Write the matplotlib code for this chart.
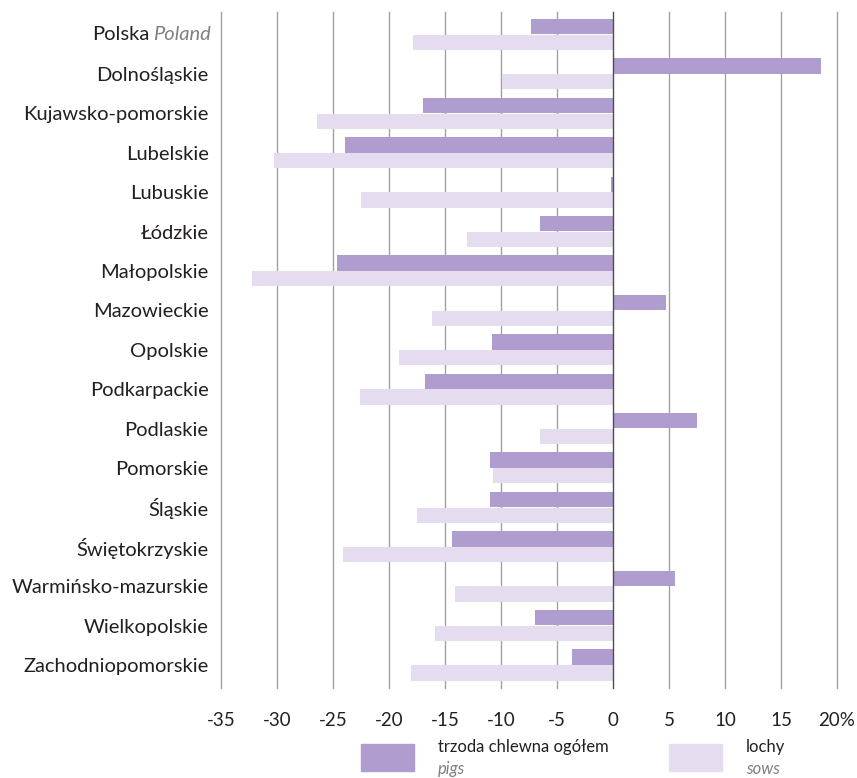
import matplotlib.pyplot as plt
import matplotlib.patches as mpatches
import matplotlib.transforms as mtransforms
import numpy as np

plt.rcParams['font.family'] = ['Lato', 'DejaVu Sans']

regions = ['Polska', 'Dolnośląskie', 'Kujawsko-pomorskie', 'Lubelskie', 'Lubuskie',
           'Łódzkie', 'Małopolskie', 'Mazowieckie', 'Opolskie', 'Podkarpackie',
           'Podlaskie', 'Pomorskie', 'Śląskie', 'Świętokrzyskie',
           'Warmińsko-mazurskie', 'Wielkopolskie', 'Zachodniopomorskie']
pigs = [-7.3, 18.6, -17.0, -23.9, -0.2, -6.5, -24.6, 4.7, -10.8, -16.8,
        7.5, -11.0, -11.0, -14.4, 5.5, -7.0, -3.7]
sows = [-17.9, -9.9, -26.4, -30.3, -22.5, -13.0, -32.2, -16.2, -19.1, -22.6,
        -6.5, -10.7, -17.5, -24.1, -14.1, -15.9, -18.0]
xticks = [-35, -30, -25, -20, -15, -10, -5, 0, 5, 10, 15, 20]
xticklabels = ['-35', '-30', '-25', '-20', '-15', '-10', '-5', '0', '5', '10', '15', '20%']

PIG_COLOR = '#b09dd0'
SOW_COLOR = '#e5ddef'
TEXT = '#231f20'
GREY_TEXT = '#808080'

W, H = 857, 778
fig = plt.figure(figsize=(W / 100, H / 100), dpi=100)
ax = fig.add_axes([221 / W, 1 - 688 / H, 616 / W, 676 / H])

y = np.arange(len(regions))
bh = 0.39
ax.barh(y - 0.2, pigs, height=bh, color=PIG_COLOR, zorder=3)
ax.barh(y + 0.2, sows, height=bh, color=SOW_COLOR, zorder=2)

for t in xticks:
    ax.axvline(t, color='#4d4d4d' if t == 0 else '#a0a0a0', lw=1.0,
               zorder=4 if t == 0 else 1, clip_on=False)

ax.set_xlim(-35, 20)
ax.set_ylim(16.585, -0.571)
ax.set_xticks(xticks)
ax.set_xticklabels(xticklabels, fontsize=13.5, color=TEXT)
ax.set_yticks(y)
ax.set_yticklabels([''] + regions[1:], fontsize=14.5, color=TEXT)
ax.tick_params(axis='both', length=0)
ax.tick_params(axis='y', pad=9)
ax.tick_params(axis='x', pad=17)
for s in ax.spines.values():
    s.set_visible(False)

# first label: "Polska" + italic "Poland"
trans = mtransforms.blended_transform_factory(ax.transAxes, ax.transData)
off = mtransforms.offset_copy(trans, fig=fig, x=-10, y=0, units='dots')
t_en = ax.text(0, 0, 'Poland', transform=off, ha='right', va='center',
               fontsize=14.5, style='italic', color=GREY_TEXT)
fig.canvas.draw()
wpx = t_en.get_window_extent(fig.canvas.get_renderer()).width
off2 = mtransforms.offset_copy(trans, fig=fig, x=-10 - wpx - 4, y=0, units='dots')
ax.text(0, 0, 'Polska', transform=off2, ha='right', va='center',
        fontsize=14.5, color=TEXT)

# legend
for x0, col, l1, l2 in [(361, PIG_COLOR, 'trzoda chlewna ogółem', 'pigs'),
                        (669, SOW_COLOR, 'lochy', 'sows')]:
    fig.patches.append(mpatches.Rectangle((x0 / W, 1 - 771 / H), 53 / W, 27 / H,
                                          transform=fig.transFigure, color=col))
    fig.text((x0 + 77) / W, 1 - 747 / H, l1, fontsize=12, color=TEXT, va='center')
    fig.text((x0 + 77) / W, 1 - 769 / H, l2, fontsize=12, color=GREY_TEXT,
             style='italic', va='center')

fig.savefig('out.png', dpi=100)
